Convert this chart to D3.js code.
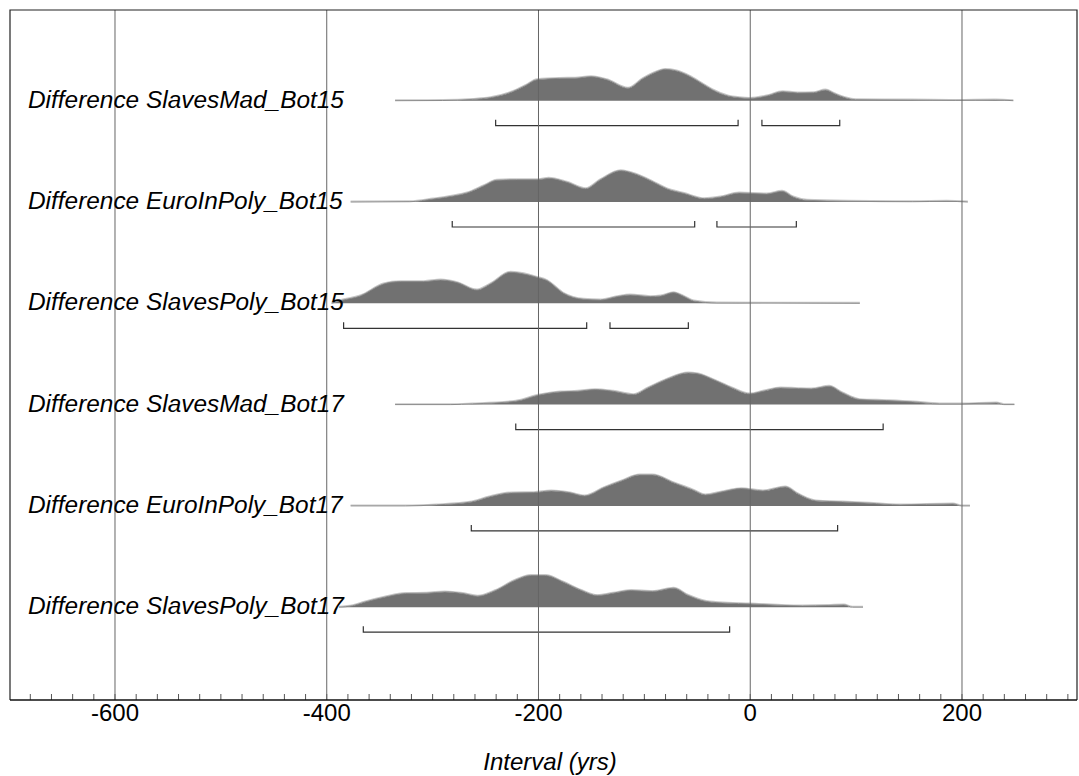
<!DOCTYPE html>
<html><head><meta charset="utf-8">
<script src="https://cdn.jsdelivr.net/npm/d3@7"></script>
<style>body{margin:0;background:#fff}svg{display:block}</style>
</head><body><svg id="c" width="1079" height="776"></svg>
<script>
// ---- data ----
const labels = [
  "Difference SlavesMad_Bot15",
  "Difference EuroInPoly_Bot15",
  "Difference SlavesPoly_Bot15",
  "Difference SlavesMad_Bot17",
  "Difference EuroInPoly_Bot17",
  "Difference SlavesPoly_Bot17"
];
// [interval (yrs), relative probability]
const slavesMadBot15 = [[-335,0],[-290,0.2],[-262,1.3],[-245,3],[-224,9],[-212,15],[-201,21],[-180,22.3],[-165,22.5],[-150,24],[-135,21],[-115,12.5],[-101,22],[-90,28],[-80,31.3],[-70,30],[-57,24.5],[-45,17],[-35,10.7],[-20,4.5],[-10,3],[0,2.3],[17,5],[31,9],[45,7.8],[60,8],[71.5,10.7],[80,7],[90,3],[100,1],[152,0.7],[194,0.3],[232,0.7],[249,0]];
const euroInPolyBot15 = [[-377,0],[-321,0.3],[-299,3],[-280,6],[-267,9],[-251,16.3],[-239,21.7],[-220,22.3],[-200,22.3],[-190,23.7],[-172.6,19.7],[-155,13.3],[-141,22.3],[-122,31.3],[-106.5,27.3],[-90.7,19.7],[-78,13],[-62,8.5],[-43,3.3],[-27.6,5],[-10,9],[16,8],[30.5,10.7],[41,5],[54,1.7],[92,0.7],[154,0.3],[186,0.7],[206,0]];
const slavesPolyBot15 = [[-395,0],[-385,3],[-368,7.3],[-346,19.3],[-330,21.7],[-308,21.7],[-292,23.3],[-276.5,20.7],[-257.6,13.3],[-245,19.3],[-226,31],[-216.7,30],[-201,26],[-191.5,22.7],[-176,10],[-157,4],[-141,3.3],[-125,6.7],[-113,8.3],[-94,6.7],[-84,7.3],[-72,10.7],[-62,6.7],[-53,2.3],[-31,0.3],[104,0]];
const slavesMadBot17 = [[-335,0],[-283,0],[-262,0.7],[-221,3.3],[-200,9.3],[-179,12.7],[-162.5,13.3],[-146,15],[-129,13.3],[-110,10],[-96,16.7],[-79,25],[-58,31.7],[-50,31],[-33,24.3],[-17,16.7],[0,10.7],[12.5,13.3],[29,16.7],[46,16],[58,15.7],[75,18.3],[87.5,11.7],[104,5],[129,4],[154,2.7],[179,0.7],[200,0.7],[233,1.7],[240,0],[250,0]];
const euroInPolyBot17 = [[-377,0],[-325,0],[-296,1],[-262.5,4],[-246,9],[-225,13],[-204,13.3],[-187.5,15],[-171,13.3],[-156,10],[-137.5,18.3],[-121,25],[-104,31],[-92,31],[-71,22.7],[-54,16],[-42,11],[-25,14.3],[-8,17.3],[12.5,15],[33.5,19],[46,11.7],[62.5,5],[87.5,4],[112.5,2.7],[142,1],[192,2],[200,0],[208,0]];
const slavesPolyBot17 = [[-388,0],[-375,1.5],[-364,5],[-345,10],[-325,13.7],[-305,14],[-288,15.3],[-271,13.7],[-257,11],[-240,16.7],[-222,26.7],[-207,31.7],[-193,31.7],[-176,25],[-159,16.7],[-144,11.7],[-129,14],[-112,16.7],[-92,15.7],[-72,19],[-58,11.7],[-41,5.7],[-21,4],[0,3.3],[26,2],[50,1.3],[74,1.7],[89,2.3],[97,0],[107,0]];
const series = [slavesMadBot15, euroInPolyBot15, slavesPolyBot15, slavesMadBot17, euroInPolyBot17, slavesPolyBot17];
// 95.4% ranges
const ranges = [
  [[-240,-11],[11.5,85]],
  [[-281,-52],[-31,44]],
  [[-383.6,-154],[-132,-58]],
  [[-221,126]],
  [[-263,83]],
  [[-365,-19]]
];
const majorTicks = [-600,-400,-200,0,200];
const minorTicks = d3.range(-680, 301, 20);
const axisTitle = "Interval (yrs)";

// ---- layout ----
const svg = d3.select("#c");
const pLeft = 10, pRight = 1077, pTop = 10, pBottom = 700;
const x = d3.scaleLinear().domain([-698.7, 309.1]).range([pLeft, pRight]);
const rowY = d3.scaleLinear().domain([0, 5]).range([100.7, 607.2]);
const h = d3.scaleLinear().domain([0, 32]).range([0, 32]);
const font = "'Liberation Sans', Arial, sans-serif";

// distributions
series.forEach((s, i) => {
  const base = rowY(i);
  const g = svg.append("g");
  const area = d3.area().x(d => x(d[0])).y0(base).y1(d => base - h(d[1])).curve(d3.curveMonotoneX);
  const line = d3.line().x(d => x(d[0])).y(d => base - h(d[1])).curve(d3.curveMonotoneX);
  const line2 = d3.line().x(d => x(d[0])).y(d => base - h(d[1]) - 0.8).curve(d3.curveMonotoneX);
  g.append("path").attr("d", line2(s)).attr("fill", "none").attr("stroke", "#c8c8c8").attr("stroke-width", 1.3);
  g.append("path").attr("d", area(s)).attr("fill", "#717171");
  g.append("path").attr("d", line(s)).attr("fill", "none").attr("stroke", "#8a8a8a").attr("stroke-width", 1);
  // range brackets
  const by = base + 25;
  ranges[i].forEach(r => {
    g.append("path")
      .attr("d", `M${x(r[0])},${by - 6}V${by}H${x(r[1])}V${by - 6}`)
      .attr("fill", "none").attr("stroke", "#333").attr("stroke-width", 1.2);
  });
});

// minor ticks
const minorAxis = d3.axisBottom(x).tickValues(minorTicks).tickSize(-6).tickSizeOuter(0).tickFormat("");
svg.append("g").attr("transform", `translate(0,${pBottom})`).call(minorAxis)
  .call(g => g.select(".domain").remove())
  .call(g => g.selectAll(".tick line").attr("stroke", "#555"));

// major ticks + gridlines
const majorAxis = d3.axisBottom(x).tickValues(majorTicks).tickSize(-(pBottom - pTop)).tickSizeOuter(0).tickPadding(4).tickFormat(d => String(d));
svg.append("g").attr("transform", `translate(0,${pBottom})`).call(majorAxis)
  .call(g => g.select(".domain").remove())
  .call(g => g.selectAll(".tick line").attr("stroke", "#666").attr("stroke-width", 1))
  .call(g => g.selectAll(".tick text").attr("font-family", font).attr("font-size", 24).attr("fill", "#000"));

// frame
svg.append("path").attr("d", `M${pLeft},${pBottom}V${pTop}H${pRight}V${pBottom}`)
  .attr("fill", "none").attr("stroke", "#222").attr("stroke-width", 1.2);
svg.append("line").attr("x1", pLeft).attr("x2", pRight).attr("y1", pBottom).attr("y2", pBottom)
  .attr("stroke", "#111").attr("stroke-width", 1.5);

// row labels
labels.forEach((t, i) => {
  svg.append("text").attr("x", 28).attr("y", rowY(i) + 7)
    .attr("font-family", font).attr("font-style", "italic").attr("font-size", 24.4)
    .attr("fill", "#000").text(t);
});

// axis title
svg.append("text").attr("x", 550).attr("y", 770).attr("text-anchor", "middle")
  .attr("font-family", font).attr("font-style", "italic").attr("font-size", 24)
  .attr("fill", "#000").text(axisTitle);
</script>
</body></html>
